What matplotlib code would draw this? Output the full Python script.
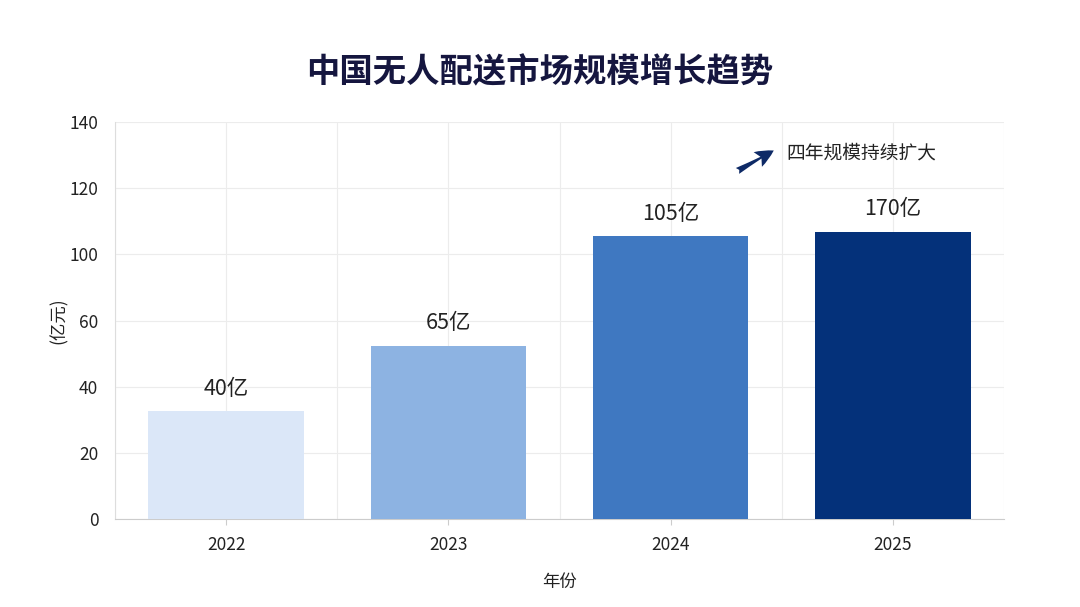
import matplotlib
matplotlib.use("Agg")
import matplotlib.pyplot as plt
import numpy as np

plt.rcParams['font.family'] = ['Noto Sans CJK SC', 'DejaVu Sans']

# data
years = ["2022", "2023", "2024", "2025"]
bar_heights = [32.6, 52.3, 85.5, 86.8]   # in grid units of the plotted axis
bar_labels = ["40亿", "65亿", "105亿", "170亿"]
colors = ["#dbe7f8", "#8db3e2", "#3f78c1", "#04317a"]
ytick_pos = [0, 20, 40, 60, 80, 100, 120]
ytick_labels = ["0", "20", "40", "60", "100", "120", "140"]

fig = plt.figure(figsize=(10.8, 6.07), dpi=100)
ax = fig.add_axes([115 / 1080, 1 - 519 / 607, (1004 - 115) / 1080, (519 - 122) / 607])

x = np.arange(len(years))
bars = ax.bar(x, bar_heights, width=0.7, color=colors, zorder=3)

for b, lab in zip(bars, bar_labels):
    ax.text(b.get_x() + b.get_width() / 2, b.get_height() + 3.5, lab,
            ha="center", va="bottom", fontsize=15.5, color="#222222")

ax.set_xlim(-0.5, 3.5)
ax.set_ylim(0, 120)
ax.set_xticks(x)
ax.set_xticklabels(years, fontsize=12.5, color="#222222")
ax.set_xticks(np.arange(-0.5, 3.6, 0.5), minor=True)
ax.set_yticks(ytick_pos)
ax.set_yticklabels(ytick_labels, fontsize=12.5, color="#222222")

ax.grid(True, which="both", color="#ececec", linewidth=0.8, zorder=0)
ax.tick_params(axis="x", which="major", length=4, color="#cccccc", pad=8)
ax.tick_params(axis="x", which="minor", length=0)
ax.tick_params(axis="y", length=0, pad=12)

for s in ["top", "right"]:
    ax.spines[s].set_visible(False)
ax.spines["left"].set_color("#dddddd")
ax.spines["bottom"].set_color("#cccccc")

ax.set_xlabel("年份", fontsize=12.5, color="#222222", labelpad=14)
ax.set_ylabel("(亿元)", fontsize=12.5, color="#222222", labelpad=1)

ax.annotate("", xy=(2.475, 111.8), xytext=(2.29, 104.8),
            arrowprops=dict(arrowstyle="fancy,head_length=0.6,head_width=0.55,tail_width=0.22",
                            mutation_scale=22, color="#0e2a66", lw=0), zorder=5)
ax.text(2.52, 110.5, "四年规模持续扩大", fontsize=13.5, color="#222222",
        ha="left", va="center", zorder=5)

fig.text(0.5, 1 - 73 / 607, "中国无人配送市场规模增长趋势", ha="center", va="center",
         fontsize=24, fontweight="bold", color="#15163f")

fig.savefig("out.png", dpi=100, facecolor="white")
